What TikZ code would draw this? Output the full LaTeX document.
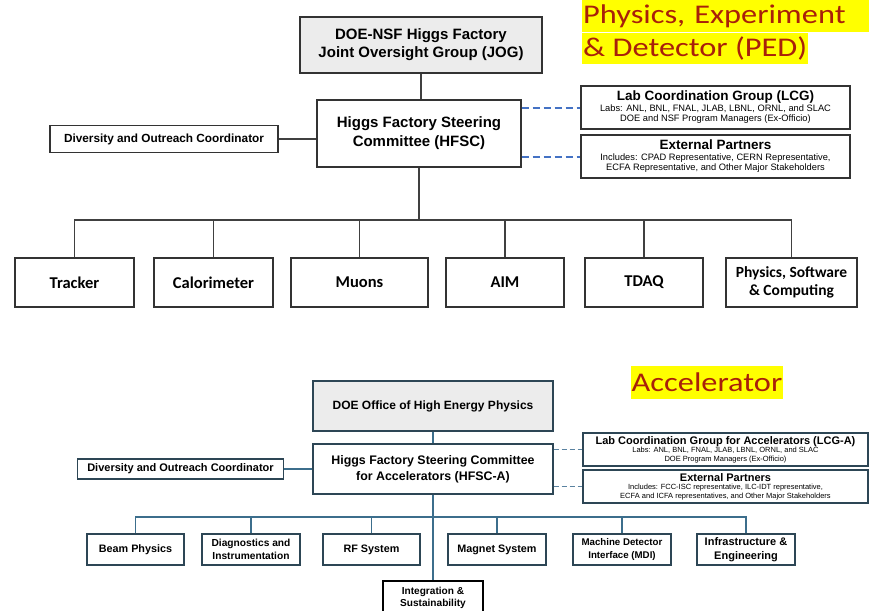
\documentclass[tikz,border=0pt]{standalone}
\usepackage{fontspec}
\setmainfont{Liberation Sans}
\newfontfamily\calfont{Carlito}
\newfontfamily\titlefont[FakeStretch=1.2]{Carlito}
\definecolor{titlered}{RGB}{168,32,10}
\definecolor{hiyellow}{RGB}{255,255,0}
\definecolor{dashblue}{RGB}{68,114,196}
\definecolor{dashslate}{RGB}{90,130,160}
\definecolor{slateline}{RGB}{60,110,140}
\definecolor{slatebox}{RGB}{45,70,85}
\definecolor{boxgray}{RGB}{236,236,236}
\tikzset{
  hilite/.style={fill=hiyellow, text=titlered, inner xsep=1pt, inner ysep=0pt, font=\titlefont\fontsize{27}{27}\selectfont},
  topbox/.style={draw=black!80, line width=1.2pt, align=center, inner sep=1pt},
  unitbox/.style={topbox, minimum height=49pt, font=\calfont\bfseries\fontsize{16.5}{18}\selectfont},
  accbox/.style={draw=slatebox, line width=1.2pt, align=center, inner sep=1pt},
  subbox/.style={accbox, minimum width=98pt, minimum height=31pt, font=\bfseries\fontsize{10.8}{13}\selectfont},
  topline/.style={draw=black!75, line width=1.2pt},
  accline/.style={draw=slateline, line width=1.2pt},
  dashtop/.style={draw=dashblue, line width=2pt, dash pattern=on 7pt off 4pt},
  dashacc/.style={draw=dashslate, line width=1.3pt, dash pattern=on 5pt off 3pt}
}
\begin{document}
\begin{tikzpicture}[x=1pt,y=-1pt]
\useasboundingbox (0,0) rectangle (871,611);

\node[hilite, text width=285pt, minimum height=32pt, align=left, anchor=north west] (pedtop) at (582,0) {Physics, Experiment};
\node[hilite, minimum height=31pt, anchor=north west] (pedbot) at (pedtop.south west) {\& Detector (PED)\hspace{4pt}};

\node[topbox, fill=boxgray, minimum width=242pt, minimum height=56pt, font=\bfseries\fontsize{15}{18}\selectfont] (jog) at (421,45) {DOE-NSF Higgs Factory\\Joint Oversight Group (JOG)};
\node[topbox, minimum width=204pt, minimum height=67pt, font=\bfseries\fontsize{15}{19}\selectfont] (hfsc) at (419,133.5) {Higgs Factory Steering\\Committee (HFSC)};
\node[topbox, minimum width=228pt, minimum height=27pt, font=\bfseries\fontsize{11.8}{13}\selectfont] (div) at (164,139) {Diversity and Outreach Coordinator};
\node[topbox, minimum width=269pt, minimum height=43pt, font=\fontsize{9.3}{10.5}\selectfont] (lcg) at (715.5,107.5) {{\bfseries\fontsize{13.5}{14}\selectfont Lab Coordination Group (LCG)}\\Labs: ANL, BNL, FNAL, JLAB, LBNL, ORNL, and SLAC\\DOE and NSF Program Managers (Ex-Officio)};
\node[topbox, minimum width=269pt, minimum height=43pt, font=\fontsize{9.3}{10.5}\selectfont] (ext) at (715.5,156.5) {{\bfseries\fontsize{13.5}{14}\selectfont External Partners}\\Includes: CPAD Representative, CERN Representative,\\ECFA Representative, and Other Major Stakeholders};

\node[unitbox, minimum width=119pt] (tracker) at (74.5,282.5) {Tracker};
\node[unitbox, minimum width=119pt] (calo) at (213.5,282.5) {Calorimeter};
\node[unitbox, minimum width=137pt] (muons) at (359.5,282.5) {Muons};
\node[unitbox, minimum width=118pt] (aim) at (505,282.5) {AIM};
\node[unitbox, minimum width=118pt] (tdaq) at (644,282.5) {TDAQ};
\node[unitbox, minimum width=131pt, font=\calfont\bfseries\fontsize{15.5}{18}\selectfont] (psc) at (791.5,282.5) {Physics, Software\\\& Computing};

\coordinate (topbus) at (420,220);
\draw[topline] (jog.south) -- (jog.south |- hfsc.north);
\draw[topline] (div.east) -- (div.east -| hfsc.west);
\draw[topline] (hfsc.south) -- (hfsc.south |- topbus);
\foreach \n in {tracker,calo,muons,aim,tdaq,psc}
  \draw[topline] (hfsc.south |- topbus) -| (\n.north);
\draw[dashtop] (hfsc.east |- lcg) -- (lcg.west);
\draw[dashtop] (hfsc.east |- ext) -- (ext.west);

\node[hilite, minimum width=152pt, minimum height=33pt] (acc) at (707,382.5) {Accelerator};

\node[accbox, fill=boxgray, minimum width=240pt, minimum height=50pt, font=\bfseries\fontsize{12}{15}\selectfont] (doe) at (433,406) {DOE Office of High Energy Physics};
\node[accbox, minimum width=240pt, minimum height=50pt, font=\bfseries\fontsize{12.4}{16}\selectfont] (hfsca) at (433,469) {Higgs Factory Steering Committee\\for Accelerators (HFSC-A)};
\node[accbox, minimum width=206pt, minimum height=20pt, font=\bfseries\fontsize{11}{12}\selectfont] (diva) at (180.5,469) {Diversity and Outreach Coordinator};
\node[accbox, minimum width=285pt, minimum height=33pt, font=\fontsize{7.5}{8.6}\selectfont] (lcga) at (725.5,449.5) {{\bfseries\fontsize{11}{12}\selectfont Lab Coordination Group for Accelerators (LCG-A)}\\Labs: ANL, BNL, FNAL, JLAB, LBNL, ORNL, and SLAC\\DOE Program Managers (Ex-Officio)};
\node[accbox, minimum width=285pt, minimum height=33pt, font=\fontsize{7.5}{8.6}\selectfont] (exta) at (725.5,486.5) {{\bfseries\fontsize{11}{12}\selectfont External Partners}\\Includes: FCC-ISC representative, ILC-IDT representative,\\ECFA and ICFA representatives, and Other Major Stakeholders};

\node[subbox, minimum width=97pt] (beam) at (135.5,549.5) {Beam Physics};
\node[subbox, font=\bfseries\fontsize{10.2}{13}\selectfont] (diag) at (251,549.5) {Diagnostics and\\Instrumentation};
\node[subbox, minimum width=97pt] (rf) at (371.5,549.5) {RF System};
\node[subbox] (magnet) at (497,549.5) {Magnet System};
\node[subbox, font=\bfseries\fontsize{9.7}{13}\selectfont] (mdi) at (622,549.5) {Machine Detector\\Interface (MDI)};
\node[subbox, font=\bfseries\fontsize{11}{14}\selectfont] (infra) at (746,549.5) {Infrastructure \&\\Engineering};
\node[draw=black, line width=2pt, minimum width=100pt, minimum height=34pt, align=center, font=\bfseries\fontsize{10.1}{12}\selectfont] (integ) at (433,598) {Integration \&\\Sustainability};

\coordinate (accbus) at (433,517);
\draw[accline] (doe.south) -- (hfsca.north);
\draw[accline] (diva.east) -- (hfsca.west |- diva.east);
\draw[accline] (hfsca.south) -- (integ.north);
\foreach \n in {beam,diag,rf,magnet,mdi,infra}
  \draw[accline] (accbus) -| (\n.north);
\draw[dashacc] (hfsca.east |- lcga) -- (lcga.west);
\draw[dashacc] (hfsca.east |- exta) -- (exta.west);
\end{tikzpicture}
\end{document}
